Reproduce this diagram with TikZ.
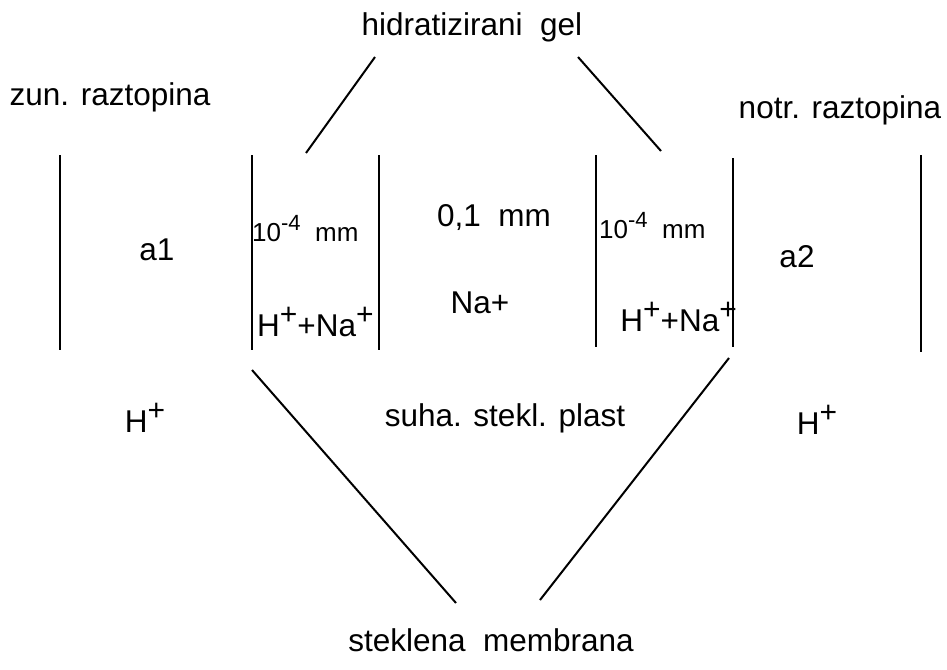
\documentclass[tikz,border=0pt]{standalone}
\usepackage{fontspec}
\setmainfont{Liberation Sans}
\newcommand{\supp}[1]{\raisebox{0.37em}{\fontsize{30}{30}\selectfont #1}}
\newcommand{\smallsup}[1]{\raisebox{0.42em}{\fontsize{22}{22}\selectfont #1}}
\begin{document}
\begin{tikzpicture}[x=1pt,y=-1pt,
  lbl/.style={inner sep=0pt,font=\fontsize{31.5}{35}\selectfont},
  small/.style={inner sep=0pt,font=\fontsize{26}{30}\selectfont},
  ln/.style={line width=2pt,black}]
\useasboundingbox (0,0) rectangle (947,669);
% labels
\node[lbl] (gel) at (472,27) {hidratizirani\ \ gel};
\node[lbl] (zun) at (110,97) {zun. raztopina};
\node[lbl] (notr) at (840,110) {notr. raztopina};
\node[lbl] (a1) at (157,250) {a1};
\node[lbl] (a2) at (797,257) {a2};
\node[small,anchor=west] (tl) at (252,229) {10\smallsup{-4}\ \ mm};
\node[small,anchor=west] (tr) at (599,226) {10\smallsup{-4}\ \ mm};
\node[lbl] (mid) at (494,218) {0,1\ \ mm};
\node[lbl,anchor=west] (hnl) at (257,322) {H\supp{+}+Na\supp{+}};
\node[lbl,anchor=east] (hnr) at (737,317) {H\supp{+}+Na\supp{+}};
\node[lbl] (na) at (480,303) {Na+};
\node[lbl] (hl) at (145,418) {H\supp{+}};
\node[lbl] (hr) at (817,420) {H\supp{+}};
\node[lbl] (suha) at (505,418) {suha. stekl. plast};
\node[lbl] (memb) at (491,640) {steklena\ \ membrana};
% boundary lines
\coordinate (v1t) at (60,155);  \coordinate (v1b) at (60,350);
\coordinate (v2t) at (252,155); \coordinate (v2b) at (252,350);
\coordinate (v3t) at (379,155); \coordinate (v3b) at (379,350);
\coordinate (v4t) at (596,155); \coordinate (v4b) at (596,347);
\coordinate (v5t) at (733,158); \coordinate (v5b) at (733,347);
\coordinate (v6t) at (921,155); \coordinate (v6b) at (921,352);
\foreach \i in {1,...,6} \draw[ln] (v\i t) -- (v\i b);
% leader lines
\coordinate (g1a) at (375,57);  \coordinate (g1b) at (306,153);
\coordinate (g2a) at (578,57);  \coordinate (g2b) at (661,151);
\coordinate (m1a) at (252,370); \coordinate (m1b) at (456,603);
\coordinate (m2a) at (729,358); \coordinate (m2b) at (540,600);
\draw[ln] (g1a) -- (g1b);
\draw[ln] (g2a) -- (g2b);
\draw[ln] (m1a) -- (m1b);
\draw[ln] (m2a) -- (m2b);
\end{tikzpicture}
\end{document}
